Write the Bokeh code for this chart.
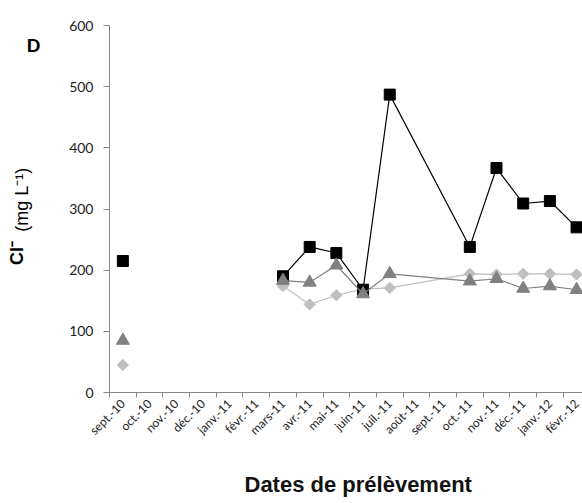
import math
from bokeh.plotting import figure
from bokeh.models import Range1d, FixedTicker, LinearAxis
from bokeh.embed import file_html
from bokeh.resources import INLINE

# ---- data ----
months = ["sept.-10", "oct.-10", "nov.-10", "déc.-10", "janv.-11", "févr.-11",
          "mars-11", "avr.-11", "mai-11", "juin-11", "juil.-11", "août-11",
          "sept.-11", "oct.-11", "nov.-11", "déc.-11", "janv.-12", "févr.-12"]
squares   = [215, None, None, None, None, None, 190, 238, 228, 168, 487, None, None, 238, 367, 309, 313, 270]
triangles = [85,  None, None, None, None, None, 183, 180, 208, 161, 194, None, None, 182, 186, 170, 174, 168]
diamonds  = [45,  None, None, None, None, None, 174, 144, 159, 169, 171, None, None, 194, 193, 194, 194, 193]
line_start = "mars-11"   # lines join points of the second campaign only
y_ticks = [0, 100, 200, 300, 400, 500, 600]
x_title = "Dates de prélèvement"
panel_letter = "D"
y_title_main = "Cl⁻"
y_title_unit = "(mg L⁻¹)"

W, H = 582, 500
FL, FT, FB = 109, 25, 398          # frame edges in page pixels
centers = [i + 0.5 for i in range(len(months))]
bounds = [float(i) for i in range(len(months) + 1)]
x_end = (W - FL) / 26.69

p = figure(width=W, height=H, output_backend="svg", toolbar_location=None,
           x_range=Range1d(0, x_end), y_range=Range1d(0, 600),
           min_border_left=FL, min_border_right=0, min_border_top=FT,
           min_border_bottom=H - FB)
p.outline_line_color = None
p.xgrid.grid_line_color = None
p.ygrid.grid_line_color = None

axis_col = "#868686"
xa = p.xaxis[0]
xa.ticker = FixedTicker(ticks=centers, minor_ticks=bounds)
xa.major_label_overrides = {c: m for c, m in zip(centers, months)}
xa.major_label_orientation = math.pi / 4
xa.major_tick_in = 0
xa.major_tick_out = 0
xa.minor_tick_in = 0
xa.minor_tick_out = 5
xa.minor_tick_line_color = axis_col
xa.axis_line_color = axis_col
xa.major_label_text_font = "Lato"
xa.major_label_text_font_size = "12px"
xa.major_label_text_color = "#222222"
xa.major_label_standoff = 4
# the source plot area runs past the cropped right edge, so its title sits a bit right of centre
xa.axis_label = "\u00a0" * 4 + x_title
xa.axis_label_text_font = "Liberation Sans"
xa.axis_label_text_font_style = "bold"
xa.axis_label_text_font_size = "22px"
xa.axis_label_text_color = "#111111"
xa.axis_label_standoff = 26

ya = p.yaxis[0]
ya.ticker = FixedTicker(ticks=y_ticks)
ya.minor_tick_line_color = None
ya.major_tick_in = 0
ya.major_tick_out = 6
ya.major_tick_line_color = axis_col
ya.axis_line_color = axis_col
ya.major_label_text_font = "Lato"
ya.major_label_text_font_size = "14px"
ya.major_label_text_color = "#222222"
ya.major_label_standoff = 10


def ypx_to_val(py):
    return round((FB - py) * 600 / (FB - FT))


def text_axis(label, py, font_size, style, standoff, vertical):
    v = ypx_to_val(py)
    ax = LinearAxis(ticker=FixedTicker(ticks=[v]), major_label_overrides={v: label},
                    axis_line_color=None, major_tick_line_color=None,
                    minor_tick_line_color=None, major_tick_out=0, major_tick_in=0,
                    major_label_standoff=standoff,
                    major_label_text_font="Liberation Sans",
                    major_label_text_font_style=style,
                    major_label_text_font_size=font_size,
                    major_label_text_color="#000000")
    if vertical:
        ax.major_label_orientation = "vertical"
    p.add_layout(ax, "left")
    return ax


text_axis(panel_letter, 45, "19px", "bold", 26, False)
text_axis(y_title_unit, 202, "18px", "normal", -9, True)
text_axis(y_title_main, 256, "18px", "bold", -18, True)

si = months.index(line_start)


def series(vals, color, marker, size, angle=0.0, lw=1.2):
    xs = [centers[i] for i in range(si, len(vals)) if vals[i] is not None]
    ys = [vals[i] for i in range(si, len(vals)) if vals[i] is not None]
    p.line(xs, ys, line_color=color, line_width=lw)
    mx = [centers[i] for i in range(len(vals)) if vals[i] is not None]
    my = [vals[i] for i in range(len(vals)) if vals[i] is not None]
    p.scatter(mx, my, marker=marker, size=size, angle=angle,
              fill_color=color, line_color=color)


series(diamonds, "#bfbfbf", "square", 8, angle=math.pi / 4)
series(squares, "#000000", "square", 11)
series(triangles, "#808080", "triangle", 13)

open("out.html", "w").write(file_html(p, INLINE))
